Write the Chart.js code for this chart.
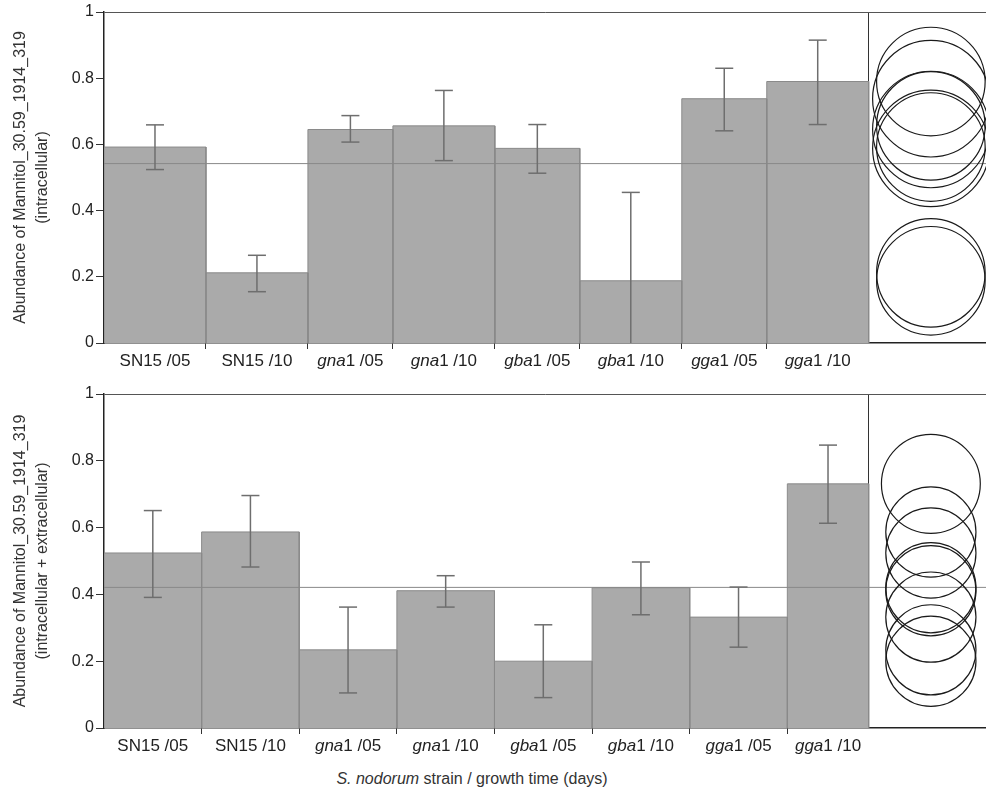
<!DOCTYPE html>
<html>
<head>
<meta charset="utf-8">
<script src="https://cdn.jsdelivr.net/npm/chart.js@4.4.1/dist/chart.umd.min.js"></script>
<style>
  html, body { margin: 0; padding: 0; background: #fff; overflow: hidden; }
  #wrap { position: relative; width: 986px; height: 801px; }
  .panel { position: absolute; left: 0; width: 986px; }
  #topPanel { top: 0; height: 373px; }
  #bottomPanel { top: 381px; height: 377px; }
  #xtitle {
    position: absolute; left: 272px; width: 400px; top: 770px;
    text-align: center; color: #333; line-height: 19px;
    font: 16px "Liberation Sans", Arial, sans-serif;
  }
</style>
</head>
<body>
<div id="wrap">
  <div class="panel" id="topPanel"><canvas id="chartTop"></canvas></div>
  <div class="panel" id="bottomPanel"><canvas id="chartBottom"></canvas></div>
  <div id="xtitle"><i>S. nodorum</i> strain / growth time (days)</div>
</div>
<script>
Chart.defaults.font.family = '"Liberation Sans", Arial, sans-serif';
Chart.defaults.font.size = 16;
Chart.defaults.color = '#222';
Chart.defaults.animation = false;

// 카테고리 (유전자 이름 부분은 이탤릭으로 그림)
const categories = ['SN15 /05', 'SN15 /10', 'gna1 /05', 'gna1 /10', 'gba1 /05', 'gba1 /10', 'gga1 /05', 'gga1 /10'];

// 위 그래프: intracellular
const intraN = [6, 6, 5, 6, 5, 6, 5, 6];              // 막대 너비 (표본 수)
const intraMean = [0.592, 0.212, 0.645, 0.656, 0.588, 0.188, 0.738, 0.790];
const intraLow = [0.524, 0.155, 0.607, 0.551, 0.513, -0.079, 0.641, 0.660];
const intraHigh = [0.659, 0.265, 0.687, 0.763, 0.660, 0.455, 0.830, 0.915];
const intraGrandMean = 0.542;
const intraCircleR = [0.164, 0.164, 0.176, 0.164, 0.176, 0.164, 0.176, 0.164];

// 아래 그래프: intracellular + extracellular
const totalN = [6, 6, 6, 6, 6, 6, 6, 5];
const totalMean = [0.524, 0.587, 0.234, 0.411, 0.200, 0.420, 0.332, 0.731];
const totalLow = [0.391, 0.482, 0.105, 0.362, 0.091, 0.339, 0.242, 0.613];
const totalHigh = [0.651, 0.696, 0.362, 0.456, 0.309, 0.497, 0.422, 0.847];
const totalGrandMean = 0.421;
const totalCircleR = [0.135, 0.135, 0.135, 0.135, 0.135, 0.135, 0.135, 0.148];

const yTicks = [0, 0.2, 0.4, 0.6, 0.8, 1];

const PANEL_FRAC = 0.133;   // 비교 원 패널이 차지하는 비율
const CIRCLE_AT = 0.53;     // 패널 안에서 원 중심 위치

function makeChart(canvasId, n, mean, low, high, grand, radius, title) {
    const total = n.reduce((a, b) => a + b, 0);
    const xMax = total / (1 - PANEL_FRAC);
    const circleX = total + (xMax - total) * CIRCLE_AT;

    let starts = [];
    let acc = 0;
    n.forEach(w => { starts.push(acc); acc += w; });
    const centers = starts.map((s, i) => s + n[i] / 2);
    const boundaries = starts.slice(1);

    let datasets = [];
    // 막대 (가변 너비)
    mean.forEach((m, i) => {
        const x0 = starts[i], x1 = starts[i] + n[i];
        datasets.push({
            type: 'line',
            data: [{ x: x0, y: 0 }, { x: x0, y: m }, { x: x1, y: m }, { x: x1, y: 0 }],
            fill: 'origin',
            backgroundColor: '#aaaaaa',
            borderColor: '#8a8a8a',
            borderWidth: 1,
            pointRadius: 0,
            tension: 0,
            order: 4,
            clip: 0
        });
    });
    // 전체 평균선
    datasets.push({
        type: 'line',
        data: [{ x: 0, y: grand }, { x: xMax, y: grand }],
        borderColor: '#888888',
        borderWidth: 1,
        pointRadius: 0,
        order: 3,
        clip: 0
    });
    // 오차 막대
    mean.forEach((m, i) => {
        datasets.push({
            type: 'line',
            data: [{ x: centers[i], y: low[i] }, { x: centers[i], y: high[i] }],
            borderColor: '#6e6e6e',
            borderWidth: 1.5,
            pointStyle: 'line',
            pointRadius: 9,
            pointBorderColor: '#6e6e6e',
            pointBorderWidth: 1.5,
            order: 2,
            clip: 0
        });
    });
    // 비교 원
    datasets.push({
        type: 'scatter',
        data: mean.map(m => ({ x: circleX, y: m })),
        pointStyle: 'circle',
        pointRadius: ctx => {
            const ys = ctx.chart.scales.y;
            return Math.abs(ys.getPixelForValue(0) - ys.getPixelForValue(radius[ctx.dataIndex]));
        },
        backgroundColor: 'rgba(0,0,0,0)',
        borderColor: '#1a1a1a',
        borderWidth: 1.2,
        order: 1
    });

    const labelPlugin = {
        id: 'richLabels',
        afterDraw(chart) {
            const { ctx, chartArea } = chart;
            const xs = chart.scales.x;
            const fontFor = it => (it ? 'italic ' : '') + '17px "Liberation Sans", Arial, sans-serif';
            ctx.save();
            ctx.fillStyle = '#222';
            ctx.textBaseline = 'alphabetic';
            ctx.textAlign = 'left';
            categories.forEach((lab, i) => {
                const m = lab.match(/^([a-z]+)(.*)$/);
                const parts = m ? [[m[1], true], [m[2], false]] : [[lab, false]];
                let w = 0;
                parts.forEach(p => { ctx.font = fontFor(p[1]); w += ctx.measureText(p[0]).width; });
                let x = xs.getPixelForValue(centers[i]) - w / 2;
                const y = chartArea.bottom + 23;
                parts.forEach(p => {
                    ctx.font = fontFor(p[1]);
                    ctx.fillText(p[0], x, y);
                    x += ctx.measureText(p[0]).width;
                });
            });
            ctx.restore();
        }
    };

    return new Chart(document.getElementById(canvasId), {
        type: 'scatter',
        data: { datasets: datasets },
        plugins: [labelPlugin],
        options: {
            responsive: true,
            maintainAspectRatio: false,
            events: [],
            layout: {
                autoPadding: false,
                padding: { top: canvasId === 'chartTop' ? 12 : 13, left: 0, right: 0, bottom: 0 }
            },
            plugins: { legend: { display: false }, tooltip: { enabled: false } },
            scales: {
                x: {
                    type: 'linear',
                    min: 0,
                    max: xMax,
                    afterBuildTicks: s => { s.ticks = boundaries.concat([total]).map(v => ({ value: v })); },
                    afterFit: s => { s.height = 30; },
                    ticks: { display: false, autoSkip: false },
                    grid: {
                        color: c => (c.tick && c.tick.value === total) ? '#333' : 'rgba(0,0,0,0)',
                        tickColor: c => (c.tick && c.tick.value === total) ? 'rgba(0,0,0,0)' : '#333',
                        tickLength: 6,
                        lineWidth: 1
                    },
                    border: { display: true, color: '#222', width: 1.5 }
                },
                y: {
                    type: 'linear',
                    min: 0,
                    max: 1,
                    afterBuildTicks: s => { s.ticks = yTicks.map(v => ({ value: v })); },
                    afterFit: s => { s.width = 104; },
                    ticks: { padding: 2, color: '#222', font: { size: 16 }, callback: v => String(v) },
                    grid: {
                        color: c => (c.tick && c.tick.value === 1) ? '#555' : 'rgba(0,0,0,0)',
                        tickColor: '#333',
                        tickLength: 8
                    },
                    border: { display: true, color: '#222', width: 1.5 },
                    title: {
                        display: true,
                        text: title,
                        color: '#333',
                        font: { size: 16, lineHeight: 1.35 },
                        padding: { top: 10, bottom: 4 }
                    }
                }
            }
        }
    });
}

makeChart('chartTop', intraN, intraMean, intraLow, intraHigh, intraGrandMean, intraCircleR,
    ['Abundance of Mannitol_30.59_1914_319', '(intracellular)']);
makeChart('chartBottom', totalN, totalMean, totalLow, totalHigh, totalGrandMean, totalCircleR,
    ['Abundance of Mannitol_30.59_1914_319', '(intracellular + extracellular)']);
</script>
</body>
</html>
